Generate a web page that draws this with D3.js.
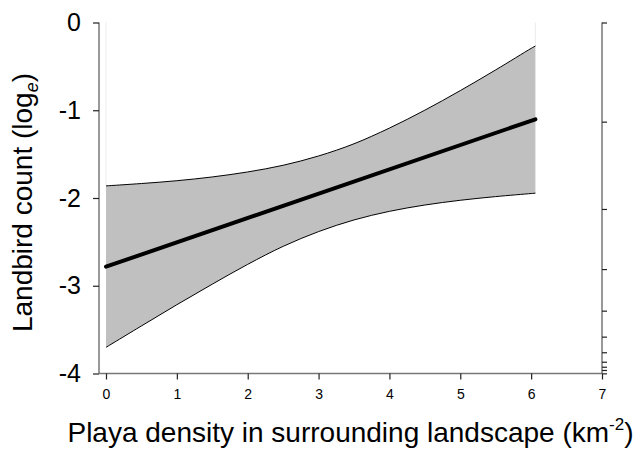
<!DOCTYPE html>
<html>
<head>
<meta charset="utf-8">
<script src="https://cdn.jsdelivr.net/npm/d3@7"></script>
<style>
  html, body { margin: 0; padding: 0; background: #fff; }
  svg { display: block; font-family: "Liberation Sans", Arial, sans-serif; }
</style>
</head>
<body>
<svg id="chart" width="634" height="449"></svg>
<script>
// ---- data ----
const xTicks = [0, 1, 2, 3, 4, 5, 6, 7];
const yTicks = [0, -1, -2, -3, -4];
const rightTicks = [0, -1.13, -2.125, -2.81, -3.284, -3.58, -3.758, -3.866, -3.923, -3.96, -3.998];
const bandX   = [0, 0.5, 1, 1.5, 2, 2.5, 3, 3.5, 4, 4.5, 5, 5.5, 6, 6.06];
const upperCI = [-1.862, -1.835, -1.803, -1.760, -1.703, -1.627, -1.521, -1.382, -1.203, -0.999, -0.776, -0.540, -0.295, -0.268];
const lowerCI = [-3.702, -3.458, -3.216, -2.982, -2.756, -2.551, -2.383, -2.250, -2.152, -2.080, -2.026, -1.984, -1.949, -1.945];
const fitX = [0, 6.06];
const fitY = [-2.783, -1.103];

// ---- layout ----
const svg = d3.select("#chart");
const x = d3.scaleLinear().domain([0, 7]).range([106, 602]);
const y = d3.scaleLinear().domain([-4, 0]).range([373.5, 22.5]);
const axisLeftX = 99, axisRightX = 602, axisBottomY = 373.5;

const band = bandX.map((v, i) => ({x: v, lo: lowerCI[i], hi: upperCI[i]}));
const curve = d3.curveCatmullRom.alpha(0.5);

// faint vertical edges above band
svg.append("g").selectAll("line").data([band[0], band[band.length - 1]]).join("line")
  .attr("x1", d => x(d.x)).attr("x2", d => x(d.x))
  .attr("y1", y(0)).attr("y2", d => y(d.hi))
  .attr("stroke", "#ececec").attr("stroke-width", 1);

// band
svg.append("path").datum(band)
  .attr("d", d3.area().x(d => x(d.x)).y0(d => y(d.lo)).y1(d => y(d.hi)).curve(curve))
  .attr("fill", "#c0c0c0");
svg.append("path").datum(band)
  .attr("d", d3.line().x(d => x(d.x)).y(d => y(d.hi)).curve(curve))
  .attr("fill", "none").attr("stroke", "#000").attr("stroke-width", 1);
svg.append("path").datum(band)
  .attr("d", d3.line().x(d => x(d.x)).y(d => y(d.lo)).curve(curve))
  .attr("fill", "none").attr("stroke", "#000").attr("stroke-width", 1);

// fit line
svg.append("path").datum(fitX.map((v, i) => [v, fitY[i]]))
  .attr("d", d3.line().x(d => x(d[0])).y(d => y(d[1])))
  .attr("fill", "none").attr("stroke", "#000").attr("stroke-width", 4).attr("stroke-linecap", "round");

// ---- axes ----
const axisColor = "#777";
// left axis
const gl = svg.append("g").attr("transform", `translate(${axisLeftX},0)`)
  .call(d3.axisLeft(y).tickValues(yTicks).tickFormat(d => String(d)).tickSize(6).tickPadding(12));
gl.select(".domain").attr("d", `M0,${y(0)}V${y(-4)}`).attr("stroke", axisColor).attr("stroke-width", 1.5);
gl.selectAll(".tick line").attr("stroke", "#222").attr("stroke-width", 1.2);
gl.selectAll(".tick text").attr("font-size", 25).attr("fill", "#000")
  .attr("font-family", "Liberation Sans, Arial, sans-serif");

// bottom axis
const gb = svg.append("g").attr("transform", `translate(0,${axisBottomY})`)
  .call(d3.axisBottom(x).tickValues(xTicks).tickFormat(d3.format("d")).tickSize(6).tickPadding(9.5));
gb.select(".domain").attr("d", `M${axisLeftX},0H${axisRightX}`).attr("stroke", axisColor).attr("stroke-width", 1.5);
gb.selectAll(".tick line").attr("stroke", "#222").attr("stroke-width", 1.2);
gb.selectAll(".tick text").attr("font-size", 14).attr("fill", "#000")
  .attr("font-family", "Liberation Sans, Arial, sans-serif");

// right axis
const gr = svg.append("g").attr("transform", `translate(${axisRightX},0)`)
  .call(d3.axisRight(y).tickValues(rightTicks).tickFormat("").tickSize(5));
gr.select(".domain").attr("d", `M0,${y(0)}V${y(-4)}`).attr("stroke", axisColor).attr("stroke-width", 1.5);
gr.selectAll(".tick line").attr("stroke", "#222").attr("stroke-width", 1.2);

// ---- titles ----
const yt = svg.append("text")
  .attr("transform", `translate(32,202.5) rotate(-90)`)
  .attr("text-anchor", "middle").attr("font-size", 28).attr("fill", "#000");
yt.append("tspan").text("Landbird count (log");
yt.append("tspan").attr("font-size", 18).attr("dy", 6).attr("font-style", "italic").text("e");
yt.append("tspan").attr("dy", -6).text(")");

const xt = svg.append("text")
  .attr("x", 350.5).attr("y", 442)
  .attr("text-anchor", "middle").attr("font-size", 28).attr("fill", "#000");
xt.append("tspan").text("Playa density in surrounding landscape (km");
xt.append("tspan").attr("font-size", 17).attr("dy", -12).text("-2");
xt.append("tspan").attr("dy", 12).text(")");
</script>
</body>
</html>
